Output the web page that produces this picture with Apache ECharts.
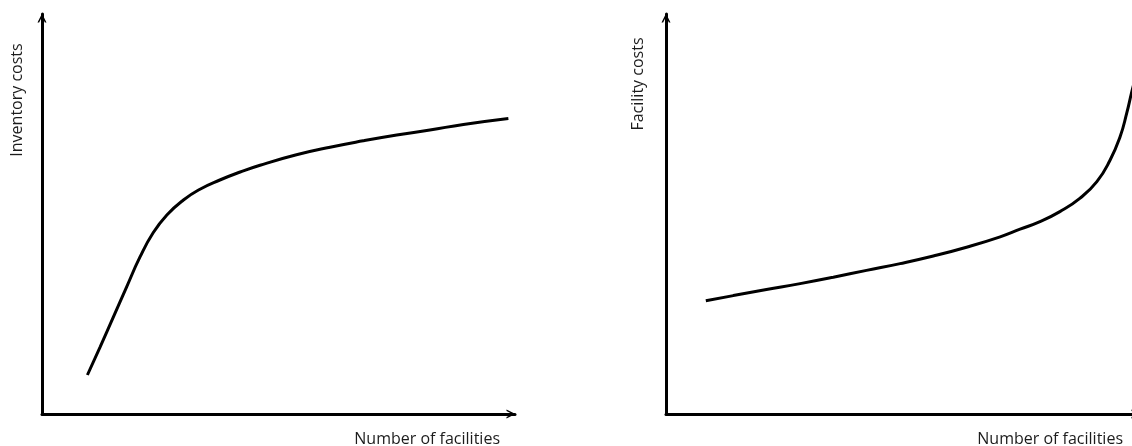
<!DOCTYPE html>
<html>
<head>
<meta charset="utf-8">
<script src="https://cdn.jsdelivr.net/npm/echarts@6/dist/echarts.min.js"></script>
<style>
html,body{margin:0;padding:0;background:#fff;overflow:hidden;}
#chart{width:1142px;height:446px;}
</style>
</head>
<body>
<div id="chart"></div>
<script>
// Left panel: inventory costs vs number of facilities (abstract units 0-100)
const inventoryX = [9.6, 12.3, 15.1, 17.9, 20.7, 23.5, 26.4, 29.9, 33.4, 37.6, 41.9, 46.1, 53.8, 60.9, 67.9, 75.0, 82.0, 89.1, 98.6];
const inventoryY = [9.75, 16.8, 24.3, 31.8, 39.2, 45.3, 49.75, 53.5, 56.2, 58.5, 60.5, 62.2, 64.8, 66.7, 68.3, 69.75, 71.0, 72.4, 73.9];
// Right panel: facility costs vs number of facilities (abstract units 0-100)
const facilityX = [8.4, 14.2, 21.2, 28.3, 35.3, 42.3, 49.4, 56.4, 63.4, 70.5, 74.7, 78.9, 83.1, 87.3, 90.9, 93.7, 95.8, 97.2, 98.2, 98.7];
const facilityY = [28.3, 29.6, 31.1, 32.6, 34.2, 35.9, 37.6, 39.5, 41.7, 44.3, 46.2, 48.1, 50.6, 53.9, 58.1, 63.5, 69.3, 75.2, 80.2, 82.5];

const xName = 'Number of facilities';
const leftYName = 'Inventory costs';
const rightYName = 'Facility costs';

const zip = (xs, ys) => xs.map((x, i) => [x, ys[i]]);

const chevron = 'path://M0,10 L5,0 L10,10 L8.2,10 L5,3.6 L1.8,10 Z';
const axisLine = {
  show: true,
  lineStyle: { color: '#000', width: 3 },
  symbol: ['none', chevron],
  symbolSize: [12, 9],
  symbolOffset: [0, -4]
};
const baseAxis = {
  type: 'value', min: 0, max: 100,
  axisLine: axisLine,
  axisTick: { show: false },
  axisLabel: { show: false },
  splitLine: { show: false }
};
const textStyle = { fontFamily: 'Open Sans', fontSize: 16, fill: '#1c1c1c' };

const chart = echarts.init(document.getElementById('chart'), null, { renderer: 'canvas' });
chart.setOption({
  animation: false,
  backgroundColor: '#fff',
  grid: [
    { left: 42, top: 14, width: 473, height: 400 },
    { left: 666, top: 14, width: 474, height: 400 }
  ],
  xAxis: [
    Object.assign({}, baseAxis, { gridIndex: 0 }),
    Object.assign({}, baseAxis, { gridIndex: 1 })
  ],
  yAxis: [
    Object.assign({}, baseAxis, { gridIndex: 0 }),
    Object.assign({}, baseAxis, { gridIndex: 1 })
  ],
  series: [
    {
      type: 'line', xAxisIndex: 0, yAxisIndex: 0,
      data: zip(inventoryX, inventoryY),
      smooth: 0.5, showSymbol: false,
      lineStyle: { color: '#000', width: 3 }
    },
    {
      type: 'line', xAxisIndex: 1, yAxisIndex: 1,
      data: zip(facilityX, facilityY),
      smooth: 0.5, showSymbol: false,
      lineStyle: { color: '#000', width: 3 }
    }
  ],
  graphic: [
    { type: 'text', x: 500, y: 439, style: Object.assign({ text: xName, textAlign: 'right', textVerticalAlign: 'middle' }, textStyle) },
    { type: 'text', x: 1123, y: 439, style: Object.assign({ text: xName, textAlign: 'right', textVerticalAlign: 'middle' }, textStyle) },
    { type: 'text', x: 17.5, y: 100, rotation: Math.PI / 2, style: Object.assign({ text: leftYName, textAlign: 'center', textVerticalAlign: 'middle' }, textStyle) },
    { type: 'text', x: 638, y: 84, rotation: Math.PI / 2, style: Object.assign({ text: rightYName, textAlign: 'center', textVerticalAlign: 'middle' }, textStyle) }
  ]
});
</script>
</body>
</html>
